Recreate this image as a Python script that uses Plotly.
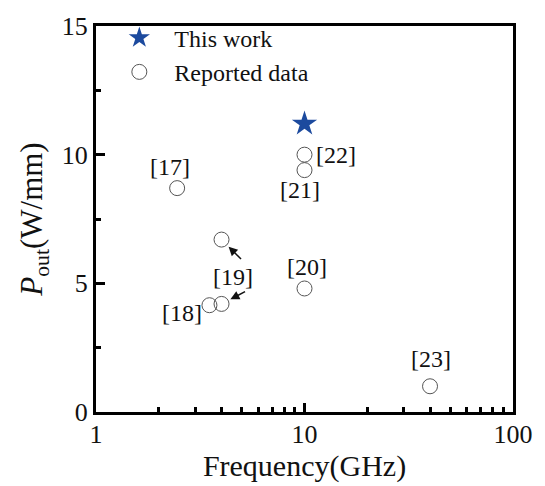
import math
import plotly.graph_objects as go

# Output power versus frequency
work_freq = [10]
work_pout = [11.2]

ref_freq = [2.45, 3.5, 4.0, 4.0, 10, 10, 10, 40]
ref_pout = [8.7, 4.15, 6.7, 4.2, 4.8, 9.4, 10.0, 1.0]

# Reference labels, with pixel offsets of each label from its point
ref_labels = ["[17]", "[18]", "", "[19]", "[20]", "[21]", "[22]", "[23]"]
label_dx = [-7, -27, 0, 11, 2, -5, 31, 1]
label_dy = [21, -8, 0, 27, 21, -20, 0, 27]

# [19] covers two points; arrows point from its label to both
arrow_points = [2, 3]
arrow_tail = [(21, 21), (25, -13)]

x_major = [1, 10, 100]
x_minor = [2, 3, 4, 5, 6, 7, 8, 9, 20, 30, 40, 50, 60, 70, 80, 90]

FONT = "Liberation Serif, Times New Roman, serif"

fig = go.Figure()
fig.add_trace(go.Scatter(
    x=work_freq, y=work_pout, mode="markers", name="This work",
    marker=dict(symbol="star", size=19, color="#1c4a9e", line=dict(width=0)),
))
fig.add_trace(go.Scatter(
    x=ref_freq, y=ref_pout, mode="markers", name="Reported data",
    marker=dict(symbol="circle-open", size=15, color="#555555", line=dict(width=1)),
))

annotations = []
for xv, yv, txt, dx, dy in zip(ref_freq, ref_pout, ref_labels, label_dx, label_dy):
    if not txt:
        continue
    annotations.append(dict(
        x=math.log10(xv), y=yv, xref="x", yref="y", text=txt, showarrow=False,
        xshift=dx, yshift=dy, font=dict(family=FONT, size=24, color="#111111"),
    ))

for idx, (ax, ay) in zip(arrow_points, arrow_tail):
    annotations.append(dict(
        x=math.log10(ref_freq[idx]), y=ref_pout[idx], xref="x", yref="y",
        text="", showarrow=True, ax=ax, ay=ay, axref="pixel", ayref="pixel",
        arrowhead=2, arrowsize=1.2, arrowwidth=1.5, arrowcolor="#111111",
        standoff=10,
    ))

axis_common = dict(
    showline=True, linecolor="black", linewidth=3, mirror=True,
    ticks="inside", tickcolor="black", tickwidth=3, ticklen=9,
    showgrid=False, zeroline=False,
    tickfont=dict(family=FONT, size=26, color="#111111"),
)

fig.update_layout(
    width=545, height=486,
    margin=dict(l=96, r=31, t=19, b=74),
    paper_bgcolor="white", plot_bgcolor="white",
    showlegend=True,
    legend=dict(
        x=0.02, y=1.027, xanchor="left", yanchor="top",
        bgcolor="rgba(0,0,0,0)", itemwidth=60,
        font=dict(family=FONT, size=24, color="#111111"),
        tracegroupgap=0,
    ),
    xaxis=dict(
        type="log", range=[0, 2], tickvals=x_major, ticktext=["1", "10", "100"],
        minor=dict(tickvals=x_minor, ticks="inside", ticklen=5, tickwidth=3, tickcolor="black"),
        title=dict(text="Frequency(GHz)", font=dict(family=FONT, size=30, color="#111111"), standoff=0),
        ticklabelstandoff=-3,
        **axis_common,
    ),
    yaxis=dict(
        range=[0, 15], tickvals=[0, 5, 10, 15],
        minor=dict(dtick=2.5, ticks="inside", ticklen=5, tickwidth=3, tickcolor="black"),
        title=dict(text="<i>P</i><sub>out</sub>(W/mm)", font=dict(family=FONT, size=31, color="#111111"), standoff=10),
        **axis_common,
    ),
    annotations=annotations,
)

fig.write_html("out.html")
